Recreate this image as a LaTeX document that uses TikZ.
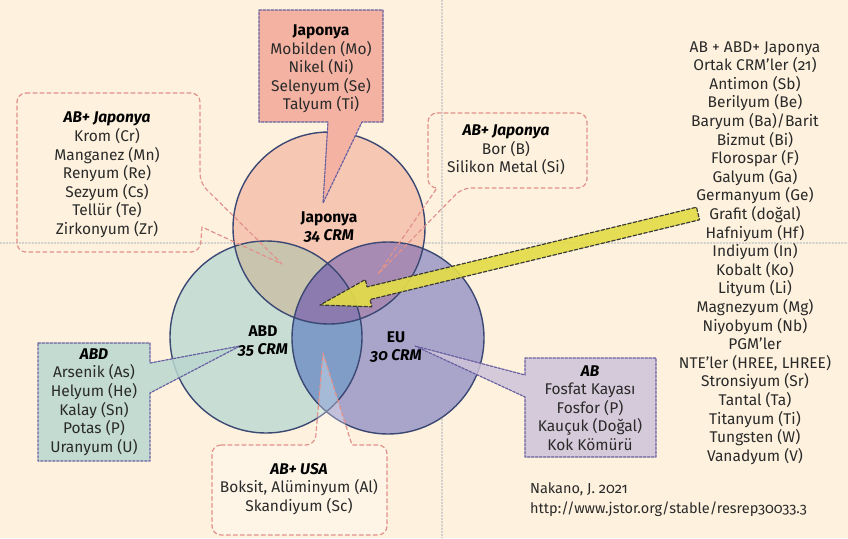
\documentclass[tikz,border=0pt]{standalone}
\usepackage{fontspec}
\setmainfont{Fira Sans}[Numbers=OldStyle]
\usetikzlibrary{positioning}
\definecolor{zemin}{HTML}{FEF2DE}
\definecolor{gri}{HTML}{CFCFCB}
\definecolor{japRenk}{HTML}{F6C7B3}
\definecolor{abdRenk}{HTML}{C8DDD4}
\definecolor{euRenk}{HTML}{A9A5CA}
\definecolor{japAbd}{HTML}{C8C4AE}
\definecolor{japEu}{HTML}{A88BB2}
\definecolor{abdEu}{HTML}{7F9DC6}
\definecolor{ortak}{HTML}{8C7BAF}
\definecolor{cizgi}{HTML}{3B4874}
\definecolor{japKutu}{HTML}{F4B2A2}
\definecolor{abdKutu}{HTML}{B9D7CF}
\definecolor{abKutu}{HTML}{CEC3D9}
\definecolor{pembe}{HTML}{E2918B}
\definecolor{mor}{HTML}{6760A0}
\definecolor{sari}{HTML}{E3DC48}
\definecolor{koyu}{HTML}{3A3A36}
\definecolor{metin}{HTML}{2A2A2A}
\begin{document}
\begin{tikzpicture}[x=1pt, y=-1pt, line join=round, line cap=round,
	font=\fontsize{15.5}{18.6}\selectfont,
	yazi/.style={align=center, text=metin, inner sep=0pt},
	baslik/.style={text=black, font=\fontsize{15.5}{18.6}\selectfont\bfseries},
	pembekutu/.style={draw=pembe, line width=1.2pt, dash pattern=on 4pt off 3pt, rounded corners=9pt},
	morkutu/.style={draw=mor, line width=1.2pt, dash pattern=on 2.5pt off 1.5pt},
	cember/.style={draw=cizgi, line width=1.4pt}]
	\path[use as bounding box, fill=zemin] (0,0) rectangle (848,538);
	\draw[gri, line width=1.2pt, dotted] (442,0)--(442,538);%dikey çizgi
	\draw[gri, line width=1.2pt, dotted] (0,243)--(848,243);%yatay çizgi
	\coordinate (jap) at (329,228);
	\coordinate (abd) at (266,337);
	\coordinate (eu) at (388,338);
	\fill[japRenk] (jap) circle[radius=96pt];
	\fill[abdRenk] (abd) circle[radius=96pt];
	\fill[euRenk] (eu) circle[radius=96pt];
	\begin{scope}%kesişimler
		\clip (jap) circle[radius=96pt];
		\fill[japAbd] (abd) circle[radius=96pt];
		\fill[japEu] (eu) circle[radius=96pt];
	\end{scope}
	\begin{scope}
		\clip (abd) circle[radius=96pt];
		\fill[abdEu] (eu) circle[radius=96pt];
		\clip (jap) circle[radius=96pt];
		\fill[ortak] (eu) circle[radius=96pt];
	\end{scope}
	\draw[cember] (jap) circle[radius=96pt] (abd) circle[radius=96pt] (eu) circle[radius=96pt];
	\coordinate (japUc) at (323,203);
	\coordinate (solUc) at (282,264);
	\coordinate (sagUc) at (378,274);
	\coordinate (abdUc) at (240,346);
	\coordinate (usaUc) at (323,353);
	\coordinate (abUc) at (415,346);
	\filldraw[fill=japKutu, morkutu] (259,10) -- (383,10) -- (383,122) -- (362,122) -- (japUc) -- (328,122) -- (259,122) -- cycle;%Japonya kutusu
	\draw[pembekutu] (17,93) -- (200,93) -- (200,183) [sharp corners] -- (solUc) -- (202,227) [rounded corners=9pt] -- (200,252) -- (17,252) -- cycle;%sol AB+Japonya
	\draw[pembekutu] (428,113) -- (587,113) -- (587,188) -- (462,188) [sharp corners] -- (sagUc) -- (437,188) [rounded corners=9pt] -- (428,188) -- cycle;%sağ AB+Japonya
	\filldraw[fill=abdKutu, fill opacity=0.85, morkutu] (38,343) -- (150,343) -- (150,363) -- (abdUc) -- (150,393) -- (150,461) -- (38,461) -- cycle;%ABD kutusu
	\filldraw[fill=white, fill opacity=0.3, pembekutu] (212,445) -- (315,445) [sharp corners] -- (usaUc) -- (352,445) [rounded corners=9pt] -- (387,445) -- (387,535) -- (212,535) -- cycle;%AB+USA kutusu
	\filldraw[fill=abKutu, fill opacity=0.85, morkutu] (525,358) -- (656,358) -- (656,457) -- (525,457) -- (525,397) -- (abUc) -- (525,375) -- cycle;%AB kutusu
	\coordinate (okUc) at (320,305);
	\filldraw[fill=sari, fill opacity=0.92, draw=koyu, line width=1.2pt, dash pattern=on 3.5pt off 2pt] (okUc) -- (371.9,306.8) -- (370.1,299.5) -- (699.5,219.8) -- (696.5,207.2) -- (367.1,286.9) -- (365.3,279.6) -- cycle;%sarı ok
	\node[baslik, align=center, inner sep=0pt] (japAd) at (329,227) {Japonya\\\textit{34 CRM}};
	\node[baslik, align=center, inner sep=0pt] (abdAd) at (263,341) {ABD\\\textit{35 CRM}};
	\node[baslik, align=center, inner sep=0pt] (euAd) at (396,347) {EU\\\textit{30 CRM}};
	\node[yazi] (japYazi) at (321,69) {\textbf{\color{black}Japonya}\\Mobilden (Mo)\\Nikel (Ni)\\Selenyum (Se)\\Talyum (Ti)};
	\node[yazi] (solYazi) at (107,175) {\textbf{\textit{\color{black}AB+ Japonya}}\\Krom (Cr)\\Manganez (Mn)\\Renyum (Re)\\Sezyum (Cs)\\Tellür (Te)\\Zirkonyum (Zr)};
	\node[yazi] (sagYazi) at (506,150) {\textbf{\textit{\color{black}AB+ Japonya}}\\Bor (B)\\Silikon Metal (Si)};
	\node[yazi] (abdYazi) at (94,402) {\textbf{\textit{\color{black}ABD}}\\Arsenik (As)\\Helyum (He)\\Kalay (Sn)\\Potas (P)\\Uranyum (U)};
	\node[yazi] (usaYazi) at (299,489) {\textbf{\textit{\color{black}AB+ USA}}\\Boksit, Alüminyum (Al)\\Skandiyum (Sc)};
	\node[yazi] (abYazi) at (590,408) {\textbf{\textit{\color{black}AB}}\\Fosfat Kayası\\Fosfor (P)\\Kauçuk (Doğal)\\Kok Kömürü};
	\node[yazi] (liste) at (755,253) {AB + ABD+ Japonya\\Ortak CRM’ler (21)\\Antimon (Sb)\\Berilyum (Be)\\Baryum (Ba)/Barit\\Bizmut (Bi)\\Florospar (F)\\Galyum (Ga)\\Germanyum (Ge)\\Grafit (doğal)\\Hafniyum (Hf)\\Indiyum (In)\\Kobalt (Ko)\\Lityum (Li)\\Magnezyum (Mg)\\Niyobyum (Nb)\\PGM’ler\\NTE’ler (HREE, LHREE)\\Stronsiyum (Sr)\\Tantal (Ta)\\Titanyum (Ti)\\Tungsten (W)\\Vanadyum (V)};
	\node[yazi, align=left, anchor=west, font=\fontsize{14.5}{20}\selectfont] (kaynak) at (530,500) {Nakano, J. 2021\\http://www.jstor.org/stable/resrep30033.3};
\end{tikzpicture}
\end{document}
